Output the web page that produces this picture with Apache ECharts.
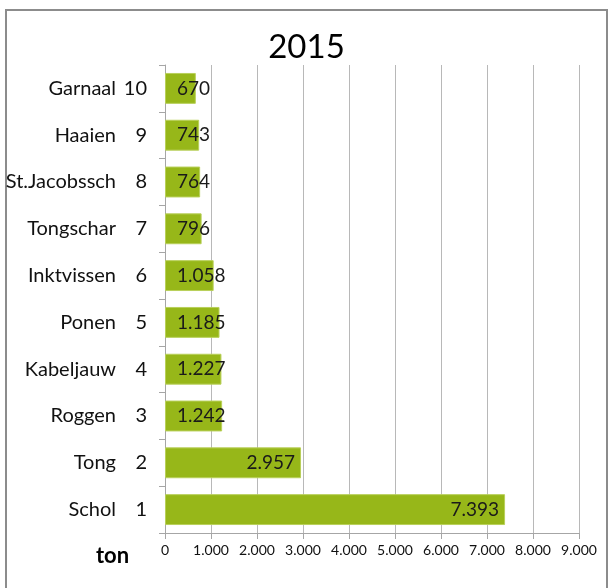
<!DOCTYPE html>
<html><head><meta charset="utf-8">
<script src="https://cdn.jsdelivr.net/npm/echarts@6/dist/echarts.min.js"></script>
<style>
html,body{margin:0;padding:0;width:613px;height:588px;overflow:hidden;background:#fff;}
#frame{position:absolute;left:5px;top:9px;width:603px;height:600px;border:2px solid #8c8c8c;box-sizing:border-box;}
#c{position:absolute;left:0;top:0;width:613px;height:588px;}
</style></head>
<body>
<div id="frame"></div>
<div id="c"></div>
<script>
const title = '2015';
const names = ['Schol','Tong','Roggen','Kabeljauw','Ponen','Inktvissen','Tongschar','St.Jacobssch','Haaien','Garnaal'];
const ranks = ['1','2','3','4','5','6','7','8','9','10'];
const values = [7393, 2957, 1242, 1227, 1185, 1058, 796, 764, 743, 670];
const xTicks = [0,1000,2000,3000,4000,5000,6000,7000,8000,9000];
const unit = 'ton';

const fmt = v => String(v).replace(/\B(?=(\d{3})+(?!\d))/g, '.');
const font = 'Lato, "Noto Sans", sans-serif';
const chart = echarts.init(document.getElementById('c'), null, {renderer:'canvas'});
chart.setOption({
  animation:false,
  title:{text:title,left:'center',top:26,textStyle:{fontFamily:font,fontSize:33,fontWeight:'normal',color:'#000'}},
  grid:{left:165,right:34,top:65,bottom:55,containLabel:false},
  xAxis:{type:'value',min:xTicks[0],max:xTicks[xTicks.length-1],interval:1000,
    axisLine:{show:true,lineStyle:{color:'#a6a6a6'}},
    axisTick:{show:true,length:6,lineStyle:{color:'#a6a6a6'}},
    splitLine:{show:true,lineStyle:{color:'#b8b8b8',width:1}},
    axisLabel:{fontFamily:font,fontSize:14,color:'#111',margin:10,formatter:v=>fmt(v)}},
  yAxis:{type:'category',data:names.map((n,i)=>n+'|'+ranks[i]),
    axisLine:{show:true,lineStyle:{color:'#a6a6a6'}},
    axisTick:{show:true,length:6,inside:false,lineStyle:{color:'#a6a6a6'}},
    axisLabel:{margin:18,formatter:v=>{const p=v.split('|');return '{n|'+p[0]+'}{r|'+p[1]+'}';},
      rich:{n:{fontFamily:font,fontSize:20,color:'#111',align:'right'},
            r:{fontFamily:font,fontSize:20,color:'#111',width:31,align:'right'}}}},
  series:[{type:'bar',barCategoryGap:'34%',
    data:values.map(v=>({value:v,label:v<2000?{position:'insideLeft',distance:12}:{position:'insideRight',distance:6}})),
    itemStyle:{color:'#97b719',borderColor:'#b9d05a',borderWidth:1},
    label:{show:true,fontFamily:font,fontSize:19,color:'#1a1a1a',formatter:p=>fmt(p.value)}}],
  graphic:[{type:'text',left:96,top:545,style:{text:unit,fontFamily:font,fontSize:22,fontWeight:'bold',fill:'#000'}}]
});
</script>
</body></html>
